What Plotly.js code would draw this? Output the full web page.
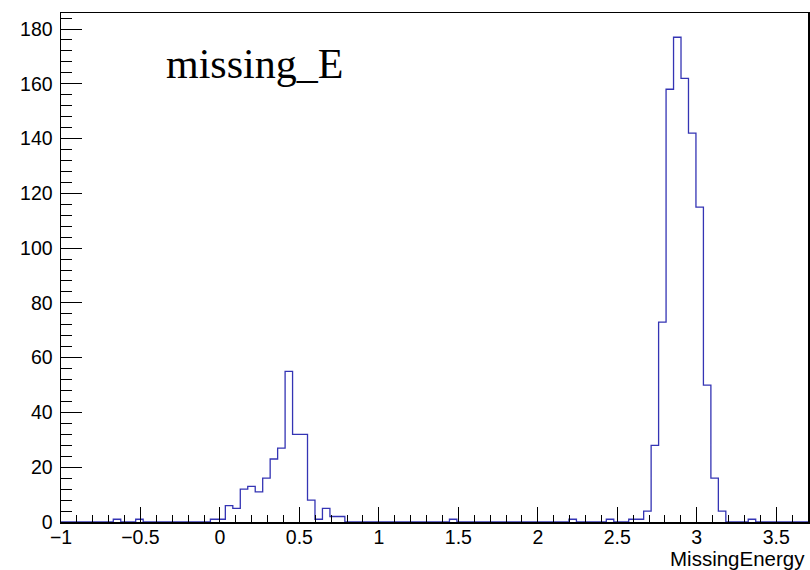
<!DOCTYPE html>
<html>
<head>
<meta charset="utf-8">
<script src="https://cdn.plot.ly/plotly-3.0.1.min.js"></script>
<style>html,body{margin:0;padding:0;background:#fff;}#plot{width:810px;height:570px;}</style>
</head>
<body>
<div id="plot"></div>
<script>
// Histogram specification
const binLow = -1.0;
const binHigh = 3.7;
const nBins = 100;
// Bin contents (index -> count), all other bins empty
const filledBins = [7, 10, 20, 21, 22, 23, 24, 25, 26, 27, 28, 29, 30, 31, 32, 33, 34, 35, 36, 37,
                    52, 68, 73, 76, 77, 78, 79, 80, 81, 82, 83, 84, 85, 86, 87, 88, 92];
const filledCounts = [1, 1, 1, 1, 6, 5, 12, 13, 11, 16, 23, 27, 55, 32, 32, 8, 1, 5, 2, 2,
                      1, 1, 1, 1, 1, 4, 28, 73, 158, 177, 162, 142, 115, 50, 16, 4, 1];
const histTitle = "missing_E";
const xLabel = "MissingEnergy";
const yTickVals = [0, 20, 40, 60, 80, 100, 120, 140, 160, 180];
const xTickVals = [-1, -0.5, 0, 0.5, 1, 1.5, 2, 2.5, 3, 3.5];

const counts = new Array(nBins).fill(0);
filledBins.forEach((b, i) => { counts[b] = filledCounts[i]; });
const w = (binHigh - binLow) / nBins;

// step outline: edges with hv shape
const xs = [binLow], ys = [0];
for (let k = 0; k < nBins; k++) { xs.push(binLow + k * w); ys.push(counts[k]); }
xs.push(binHigh); ys.push(counts[nBins - 1]);
xs.push(binHigh); ys.push(0);

const ymax = Math.max(...counts) * 1.05;
const lineCol = '#3434b4';

const trace = {
  x: xs, y: ys, type: 'scatter', mode: 'lines',
  line: {shape: 'hv', color: lineCol, width: 1.3},
  hoverinfo: 'skip', showlegend: false
};

const axisFont = {family: 'Liberation Sans, Arial, sans-serif', size: 19.5, color: '#000'};
const layout = {
  width: 810, height: 570,
  margin: {l: 61, r: 2, t: 13, b: 48},
  paper_bgcolor: '#fff', plot_bgcolor: '#fff',
  showlegend: false,
  xaxis: {
    range: [binLow, binHigh], tickvals: xTickVals,
    ticks: 'inside', ticklen: 15, tickcolor: '#000', tickwidth: 1,
    minor: {dtick: 0.1, tick0: 0, ticks: 'inside', ticklen: 7.5, tickcolor: '#000', tickwidth: 1},
    showline: true, linecolor: '#000', linewidth: 1.5, mirror: true,
    showgrid: false, zeroline: false, tickfont: axisFont, ticklabelstandoff: -3
  },
  yaxis: {
    range: [0, ymax], tickvals: yTickVals,
    ticks: 'inside', ticklen: 21, tickcolor: '#000', tickwidth: 1,
    minor: {dtick: 4, tick0: 0, ticks: 'inside', ticklen: 11, tickcolor: '#000', tickwidth: 1},
    showline: true, linecolor: '#000', linewidth: 1.5, mirror: true,
    showgrid: false, zeroline: false, tickfont: axisFont, ticklabelstandoff: 3
  },
  annotations: [
    {text: histTitle, xref: 'paper', yref: 'paper', x: 0.138, y: 0.949,
     xanchor: 'left', yanchor: 'top', showarrow: false,
     font: {family: 'Liberation Serif, Times New Roman, serif', size: 42, color: '#000'}},
    {text: xLabel, xref: 'paper', yref: 'paper', x: 1, y: -0.046,
     xanchor: 'right', yanchor: 'top', showarrow: false, xshift: -1,
     font: {family: 'Liberation Sans, Arial, sans-serif', size: 20.5, color: '#000'}}
  ]
};

Plotly.newPlot('plot', [trace], layout, {displayModeBar: false, staticPlot: true});
</script>
</body>
</html>
